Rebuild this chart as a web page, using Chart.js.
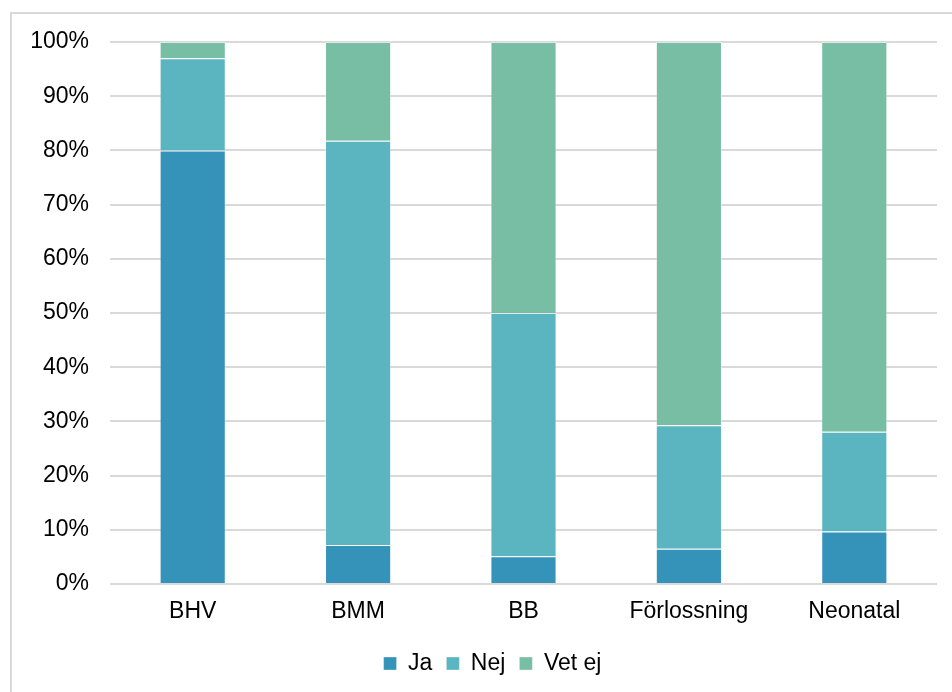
<!DOCTYPE html>
<html>
<head>
<meta charset="utf-8">
<script src="https://cdn.jsdelivr.net/npm/chart.js@4"></script>
<style>
    html, body { margin: 0; padding: 0; background: #fff; overflow: hidden; }
    #frame {
        position: absolute; left: 10px; top: 12px;
        width: 1000px; height: 1000px;
        border: 2px solid #d9d9d9;
    }
    #wrap { position: absolute; left: 0; top: 0; width: 952px; height: 692px; }
</style>
</head>
<body>
<div id="frame"></div>
<div id="wrap"><canvas id="chart"></canvas></div>
<script>
// values (percent of answers)
var categories = ['BHV', 'BMM', 'BB', 'Förlossning', 'Neonatal'];
var ja = [80, 7.2, 5.1, 6.5, 9.7];
var nej = [17, 74.6, 44.9, 22.8, 18.4];
var vetEj = [3, 18.2, 50, 70.7, 71.9];
var yTicks = [0, 10, 20, 30, 40, 50, 60, 70, 80, 90, 100];

Chart.defaults.font.family = '"Liberation Sans", Arial, sans-serif';
Chart.defaults.color = '#000';

// nudge the legend a bit right, like the original
var legendShift = {
    id: 'legendShift',
    afterLayout: function (chart) {
        chart.legend.left += 24;
        chart.legend.right += 24;
    }
};

var ctx = document.getElementById('chart').getContext('2d');
new Chart(ctx, {
    type: 'bar',
    data: {
        labels: categories,
        datasets: [{
            label: 'Ja',
            data: ja,
            backgroundColor: '#3593ba',
            borderColor: 'rgba(255, 255, 255, 0.35)',
            borderWidth: 1
        }, {
            label: 'Nej',
            data: nej,
            backgroundColor: '#5ab5c0',
            borderColor: 'rgba(255, 255, 255, 0.35)',
            borderWidth: 1
        }, {
            label: 'Vet ej',
            data: vetEj,
            backgroundColor: '#77bea5',
            borderColor: 'rgba(255, 255, 255, 0.35)',
            borderWidth: 1
        }]
    },
    options: {
        responsive: true,
        maintainAspectRatio: false,
        animation: false,
        layout: { padding: { top: 42, right: 15, bottom: 7, left: 0 } },
        datasets: { bar: { categoryPercentage: 1, barPercentage: 0.4 } },
        scales: {
            x: {
                stacked: true,
                grid: { display: false },
                border: { display: false },
                ticks: { font: { size: 23 }, padding: 6 },
                afterFit: function (axis) { axis.height = 54; }
            },
            y: {
                stacked: true,
                min: 0,
                max: 100,
                afterBuildTicks: function (axis) {
                    axis.ticks = yTicks.map(function (v) { return { value: v }; });
                },
                ticks: {
                    font: { size: 23 },
                    padding: 21,
                    callback: function (v) { return v + '%'; }
                },
                grid: { color: '#d9d9d9', lineWidth: 2, drawTicks: false },
                border: { display: false },
                afterFit: function (axis) { axis.width = 110; }
            }
        },
        plugins: {
            legend: {
                position: 'bottom',
                labels: {
                    font: { size: 23 },
                    boxWidth: 13,
                    boxHeight: 13,
                    padding: 14
                }
            },
            tooltip: { enabled: false }
        }
    },
    plugins: [legendShift]
});
</script>
</body>
</html>
